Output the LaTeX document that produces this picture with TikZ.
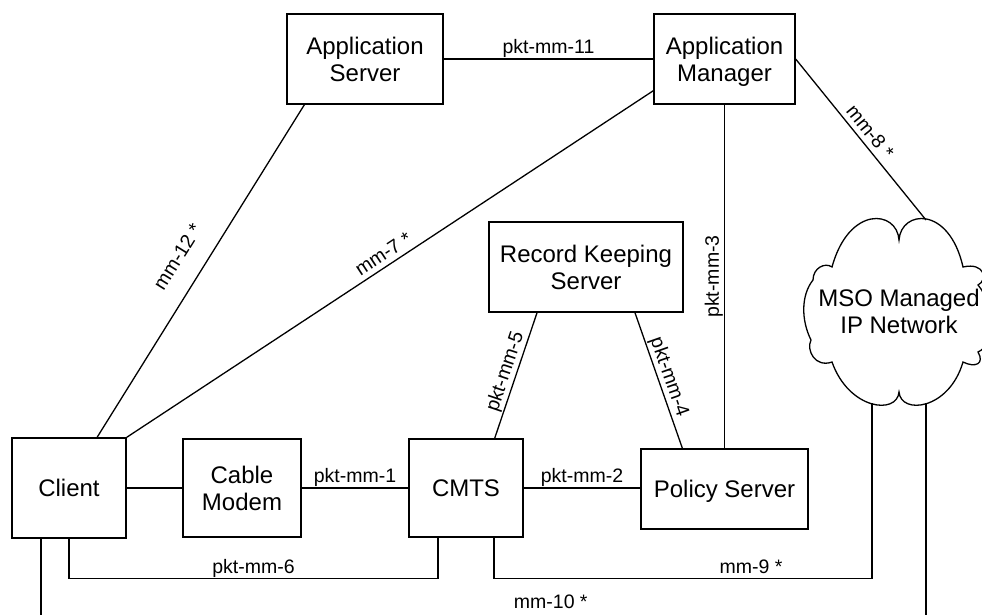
\documentclass[tikz,border=0pt]{standalone}
\usepackage{fontspec}
\setmainfont{Liberation Sans}
\usetikzlibrary{calc}

\newcommand\boxfont{\fontsize{24}{27}\selectfont}
\newcommand\lblfont{\fontsize{19.5}{22}\selectfont}

\tikzset{
  box/.style={draw, font=\boxfont, align=center, text depth=0pt, inner sep=2pt},
  lbl/.style={font=\lblfont, text depth=4pt, inner sep=1pt}
}

\begin{document}
\begin{tikzpicture}[x=1pt, y=-1pt, line width=1.3pt]
        \clip (0,0) rectangle (982,614);
        \node[box, minimum width=156pt, minimum height=90pt] (appserver) at (365,59) {Application\\Server};
        \node[box, minimum width=141pt, minimum height=90pt] (appmgr) at (724.5,59) {Application\\Manager};
        \node[box, minimum width=194pt, minimum height=90pt] (records) at (586,267) {Record Keeping\\Server};
        \node[box, minimum width=114pt, minimum height=100pt] (client) at (69,488) {Client};
        \node[box, minimum width=118pt, minimum height=98pt] (cablemodem) at (242,488) {Cable\\Modem};
        \node[box, minimum width=114pt, minimum height=98pt] (cmts) at (466,488) {CMTS};
        \node[box, minimum width=167pt, minimum height=80pt] (policy) at (724.5,489) {Policy Server};
        \begin{scope}[shift={(899,312)}]
            \draw (0,-72) .. controls (2,-102) and (50,-107) .. (64,-45)
                .. controls (86,-50) and (89,-32) .. (79,-27)
                .. controls (96,-7) and (96,33) .. (79,40)
                .. controls (86,52) and (76,56) .. (64,50)
                .. controls (50,98) and (2,103) .. (0,80)
                .. controls (-2,103) and (-50,98) .. (-67,50)
                .. controls (-84,56) and (-93,38) .. (-88,28)
                .. controls (-98,8) and (-98,-17) .. (-86,-32)
                .. controls (-86,-44) and (-74,-50) .. (-67,-45)
                .. controls (-50,-107) and (-2,-102) .. (0,-72) -- cycle;
            \node[font=\boxfont, align=center] (network) at (0,-0.5) {MSO Managed\\IP Network};
            \coordinate (netN) at (27,-92);
            \coordinate (netSW) at (-27,91);
            \coordinate (netSE) at (27,91);
        \end{scope}
        \coordinate (cmtsL) at ([xshift=-28pt]cmts.south);
        \coordinate (cmtsR) at ([xshift=28pt]cmts.south);
        \coordinate (clientL) at ([xshift=-28pt]client.south);

        \draw (appserver) -- node[lbl,above]{pkt-mm-11} (appmgr);
        \draw (client.61) -- node[lbl,above=15pt,sloped]{mm-12 *} (appserver.217);
        \draw (client.north east) -- node[lbl,above,sloped]{mm-7 *} (appmgr.204);
        \draw (appmgr.east) -- node[lbl,above,sloped]{mm-8 *} (netN);
        \draw (policy) -- node[lbl,above,sloped]{pkt-mm-3} (appmgr);
        \draw (cmts.60) -- node[lbl,above,sloped]{pkt-mm-5} (records.223);
        \draw (records.317) -- node[lbl,above,sloped]{pkt-mm-4} (policy.136);
        \draw (client) -- (cablemodem);
        \draw (cablemodem) -- node[lbl,above]{pkt-mm-1} (cmts);
        \draw (cmts) -- node[lbl,above]{pkt-mm-2} (cmts -| policy.west);
        \draw (client.south) -- ++(0,40) coordinate (c6) -- node[lbl,above]{pkt-mm-6} (c6 -| cmtsL) -- (cmtsL);
        \draw (cmtsR) -- ++(0,41) coordinate (c9) -- node[lbl,above,pos=0.68]{mm-9 *} (c9 -| netSW) -- (netSW);
        \draw (clientL) -- ++(0,78) coordinate (c10) -- node[lbl,above=3pt,pos=0.576]{mm-10 *} (c10 -| netSE) -- (netSE);
      \end{tikzpicture}
\end{document}
